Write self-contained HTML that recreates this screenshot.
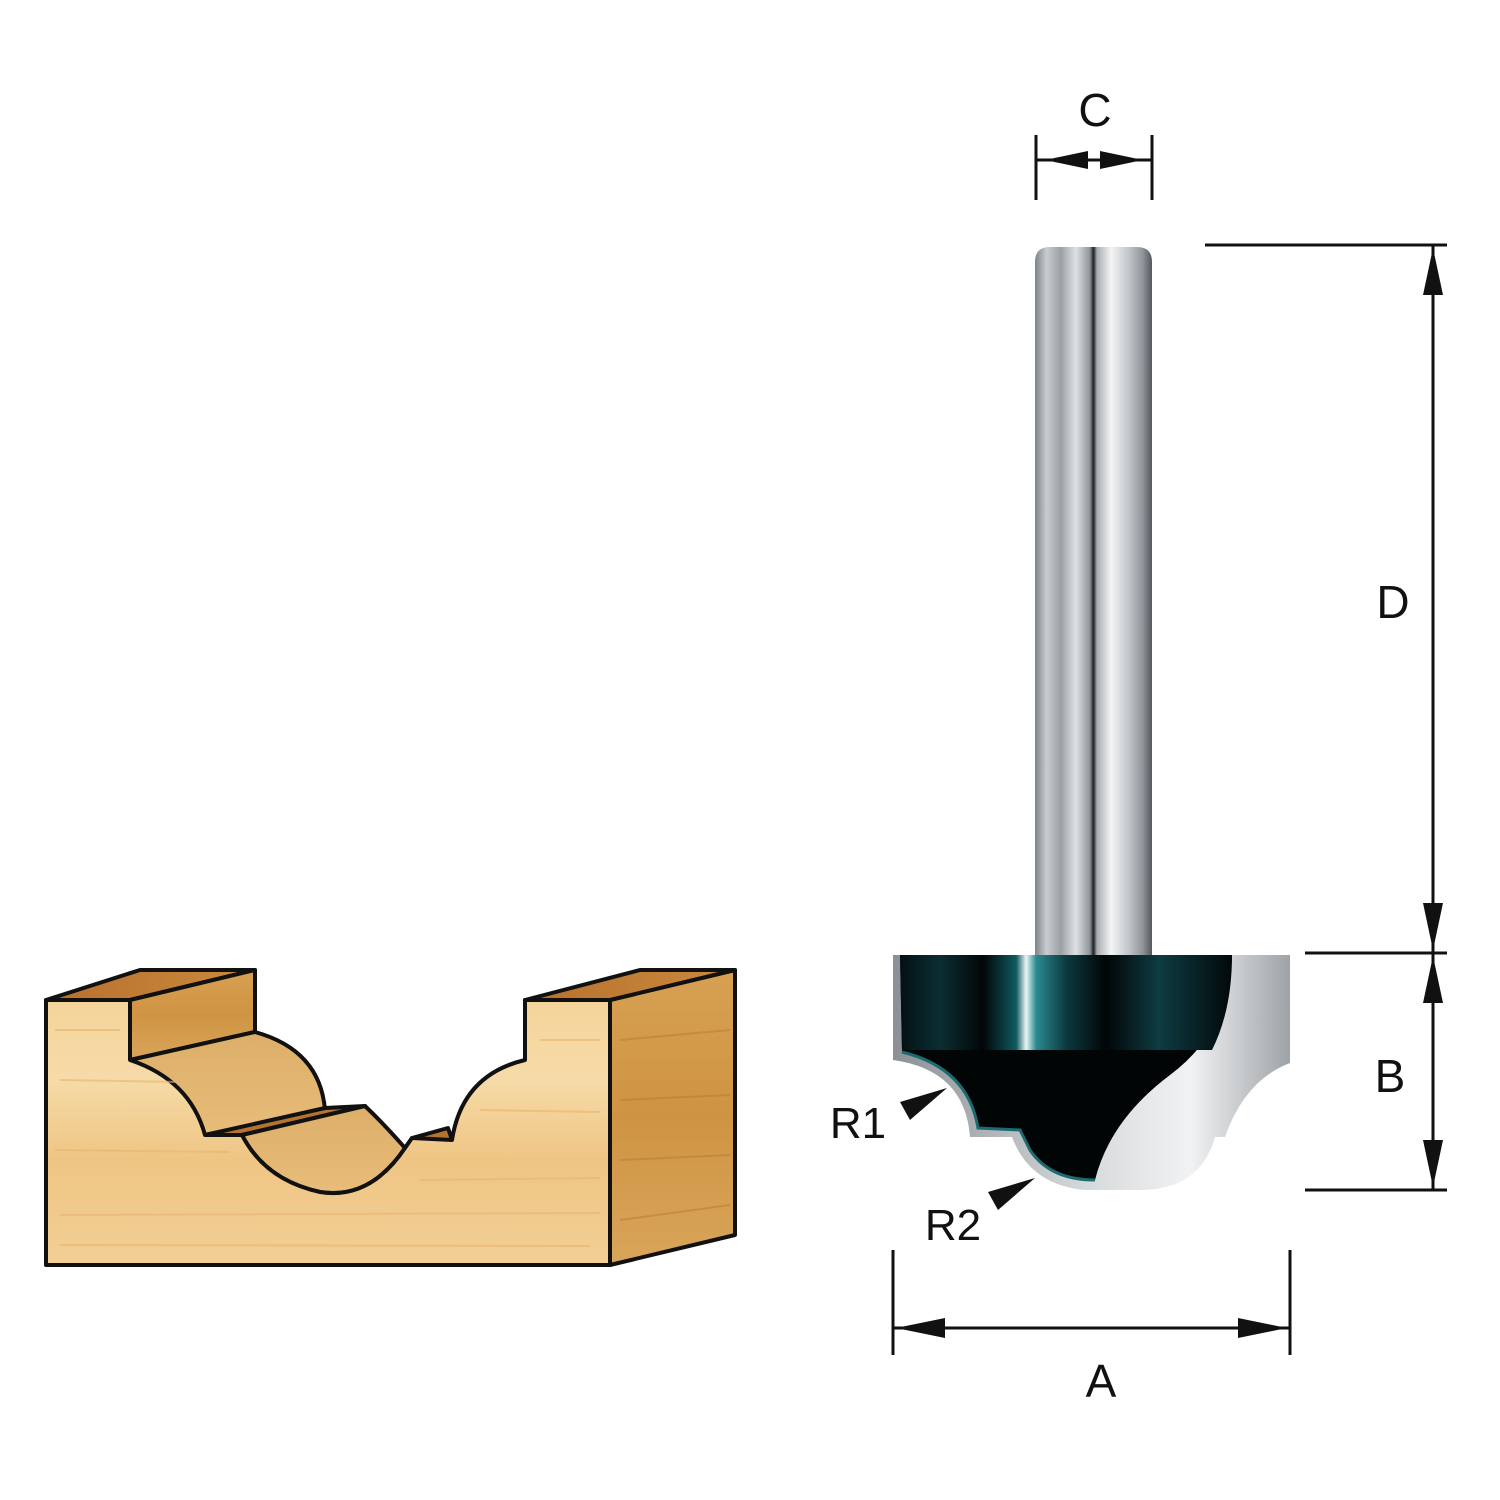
<!DOCTYPE html>
<html><head><style>html,body{margin:0;padding:0;background:#fff}svg{display:block}text{font-family:"Liberation Sans",sans-serif;fill:#111}</style></head>
<body>
<svg width="1500" height="1500" viewBox="0 0 1500 1500" xmlns="http://www.w3.org/2000/svg">
<defs>
<linearGradient id="front" x1="0" y1="0" x2="0" y2="1">
<stop offset="0" stop-color="#f4d49a"/><stop offset="0.3" stop-color="#f6dba8"/><stop offset="0.6" stop-color="#efc584"/><stop offset="1" stop-color="#f2cf95"/></linearGradient>
<linearGradient id="side" x1="0" y1="0" x2="0" y2="1">
<stop offset="0" stop-color="#d7a052"/><stop offset="0.5" stop-color="#cf9443"/><stop offset="1" stop-color="#d9a55a"/></linearGradient>
<linearGradient id="top" x1="0" y1="0" x2="1" y2="0">
<stop offset="0" stop-color="#b8702c"/><stop offset="1" stop-color="#c98a3e"/></linearGradient>
<linearGradient id="mid" x1="0" y1="0" x2="0" y2="1">
<stop offset="0" stop-color="#dcae68"/><stop offset="1" stop-color="#e8bd7a"/></linearGradient>
<linearGradient id="shank" x1="0" y1="0" x2="1" y2="0">
<stop offset="0" stop-color="#7d8388"/><stop offset="0.1" stop-color="#c9cdd0"/><stop offset="0.22" stop-color="#9aa0a5"/><stop offset="0.35" stop-color="#dfe2e4"/><stop offset="0.47" stop-color="#8d9398"/><stop offset="0.5" stop-color="#1c1f22"/><stop offset="0.53" stop-color="#a9aeb2"/><stop offset="0.65" stop-color="#f3f4f5"/><stop offset="0.8" stop-color="#c2c6c9"/><stop offset="0.92" stop-color="#8f959a"/><stop offset="1" stop-color="#55595d"/></linearGradient>
<linearGradient id="silver" x1="0" y1="0" x2="1" y2="0">
<stop offset="0" stop-color="#8a9095"/><stop offset="0.5" stop-color="#d8dbdd"/><stop offset="0.75" stop-color="#f1f2f3"/><stop offset="1" stop-color="#9ea3a7"/></linearGradient>
<linearGradient id="collar" x1="0" y1="0" x2="1" y2="0">
<stop offset="0" stop-color="#031014"/><stop offset="0.12" stop-color="#0b2e33"/><stop offset="0.25" stop-color="#020608"/><stop offset="0.35" stop-color="#0f5a60"/><stop offset="0.38" stop-color="#eaf6f6"/><stop offset="0.41" stop-color="#2a8a90"/><stop offset="0.5" stop-color="#0a3a40"/><stop offset="0.62" stop-color="#020507"/><stop offset="0.78" stop-color="#0d3c42"/><stop offset="1" stop-color="#02080a"/></linearGradient>
</defs>

<!-- Wood block -->
<g stroke="#111" stroke-width="4" stroke-linejoin="round">
<polygon points="610,1000 735,970 735,1235 610,1265" fill="url(#side)"/>
<polygon points="525,1000 640,970 735,970 610,1000" fill="url(#top)"/>
<polygon points="46,1000 140,970 255,970 130,1000" fill="url(#top)"/>
<polygon points="130,1000 255,970 255,1032 130,1060" fill="url(#side)"/>
<path d="M130,1060 L255,1032 Q320,1050 325,1110 L205,1135 Z" fill="url(#mid)"/>
<path d="M205,1135 L325,1108 L365,1106 L242,1135 Z" fill="#b47430"/>
<path d="M242,1135 L365,1106 Q385,1125 405,1148 Q370,1200 320,1192 Q265,1180 242,1135 Z" fill="url(#mid)"/>
<path d="M405,1148 L412,1138 L448,1128 L452,1140 Z" fill="#b47430"/>
<path d="M46,1000 L130,1000 L130,1060 Q190,1080 205,1135 L242,1135 Q265,1180 320,1192 Q370,1200 405,1148 L412,1138 L452,1140 Q462,1075 525,1060 L525,1000 L610,1000 L610,1265 L46,1265 Z" fill="url(#front)"/>
</g>
<g stroke="#e9b56e" stroke-width="2" opacity="0.6">
<line x1="55" y1="1030" x2="120" y2="1030"/><line x1="60" y1="1080" x2="180" y2="1082"/><line x1="55" y1="1150" x2="230" y2="1152"/><line x1="60" y1="1215" x2="600" y2="1213"/><line x1="420" y1="1180" x2="600" y2="1178"/><line x1="540" y1="1040" x2="600" y2="1040"/><line x1="480" y1="1110" x2="600" y2="1112"/><line x1="60" y1="1245" x2="590" y2="1246"/>
</g>
<g stroke="#b97a35" stroke-width="2" opacity="0.5">
<line x1="620" y1="1040" x2="730" y2="1030"/><line x1="620" y1="1100" x2="730" y2="1095"/><line x1="620" y1="1160" x2="730" y2="1155"/><line x1="620" y1="1220" x2="730" y2="1205"/>
</g>

<!-- Shank -->
<path d="M1035,262 Q1035,247 1050,247 L1137,247 Q1152,247 1152,262 L1152,958 L1035,958 Z" fill="url(#shank)"/>

<!-- Cutter head -->
<path d="M893,955 L1290,955 L1290,1063 Q1245,1080 1225,1137 L1215,1137 Q1200,1190 1140,1190 L1085,1190 Q1030,1185 1012,1137 L970,1137 Q965,1070 893,1060 Z" fill="url(#silver)"/>
<path d="M900,955 L1232,955 Q1230,1030 1170,1075 Q1110,1120 1095,1180 Q1050,1180 1030,1150 L1020,1130 L978,1128 Q968,1068 902,1052 Z" fill="#020506"/>
<path d="M900,955 L1232,955 Q1232,1010 1212,1050 L902,1050 Z" fill="url(#collar)"/>
<path d="M902,1052 Q968,1068 978,1128 L1020,1130 L1030,1150 Q1050,1180 1095,1180" fill="none" stroke="#1d6a70" stroke-width="3"/>

<!-- Dimension C -->
<g stroke="#111" stroke-width="3">
<line x1="1036" y1="135" x2="1036" y2="200"/><line x1="1152" y1="135" x2="1152" y2="200"/>
<line x1="1036" y1="160" x2="1152" y2="160"/>
</g>
<polygon points="1045,160 1088,151 1088,169" fill="#111"/>
<polygon points="1143,160 1100,151 1100,169" fill="#111"/>
<text x="1095" y="126" font-size="46" text-anchor="middle">C</text>

<!-- Dimension D / B -->
<g stroke="#111" stroke-width="3">
<line x1="1205" y1="245" x2="1447" y2="245"/>
<line x1="1305" y1="953" x2="1447" y2="953"/>
<line x1="1305" y1="1190" x2="1447" y2="1190"/>
<line x1="1433" y1="245" x2="1433" y2="1190"/>
</g>
<polygon points="1433,248 1423,295 1443,295" fill="#111"/>
<polygon points="1433,950 1423,903 1443,903" fill="#111"/>
<polygon points="1433,956 1423,1003 1443,1003" fill="#111"/>
<polygon points="1433,1187 1423,1140 1443,1140" fill="#111"/>
<text x="1393" y="618" font-size="46" text-anchor="middle">D</text>
<text x="1390" y="1092" font-size="46" text-anchor="middle">B</text>

<!-- Dimension A -->
<g stroke="#111" stroke-width="3">
<line x1="893" y1="1250" x2="893" y2="1355"/><line x1="1290" y1="1250" x2="1290" y2="1355"/>
<line x1="893" y1="1328" x2="1290" y2="1328"/>
</g>
<polygon points="896,1328 945,1318 945,1338" fill="#111"/>
<polygon points="1287,1328 1238,1318 1238,1338" fill="#111"/>
<text x="1101" y="1397" font-size="46" text-anchor="middle">A</text>

<!-- R1 / R2 -->
<polygon points="947,1088 900,1102 910,1120" fill="#111"/>
<text x="858" y="1138" font-size="44" text-anchor="middle">R1</text>
<polygon points="1035,1178 988,1192 998,1210" fill="#111"/>
<text x="953" y="1240" font-size="44" text-anchor="middle">R2</text>
</svg>
</body></html>
